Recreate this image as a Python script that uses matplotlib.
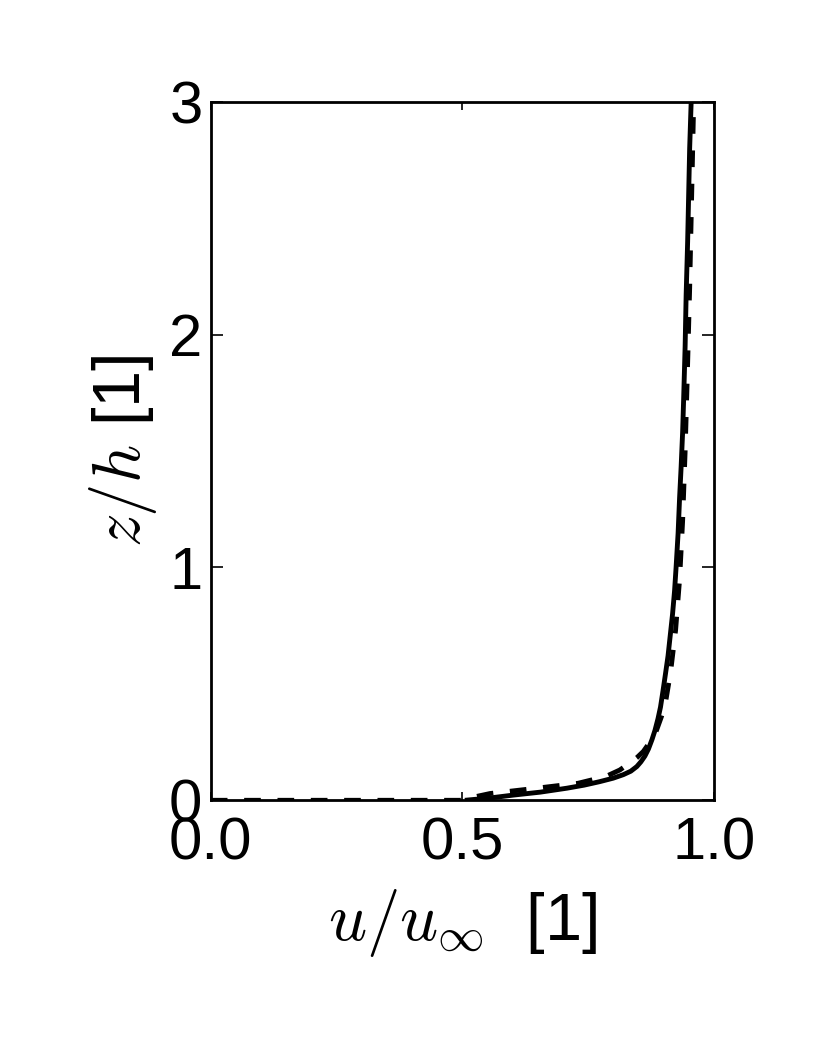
import matplotlib
matplotlib.use("Agg")
import matplotlib.pyplot as plt

# Solid profile (u/u_inf, z/h)
solid_u = [0.505, 0.555, 0.600, 0.655, 0.708, 0.742, 0.773, 0.800, 0.820, 0.835,
           0.847, 0.855, 0.863, 0.870, 0.877, 0.883, 0.889, 0.894, 0.899, 0.904,
           0.909, 0.913, 0.918, 0.922, 0.925, 0.929, 0.932, 0.935, 0.938, 0.940,
           0.943, 0.945, 0.948, 0.950, 0.952, 0.955]
solid_z = [0.0, 0.010, 0.022, 0.035, 0.052, 0.065, 0.080, 0.095, 0.110, 0.125,
           0.145, 0.165, 0.190, 0.220, 0.260, 0.300, 0.350, 0.400, 0.470, 0.544,
           0.620, 0.700, 0.800, 0.900, 1.000, 1.146, 1.300, 1.430, 1.580, 1.720,
           1.950, 2.170, 2.400, 2.600, 2.800, 3.000]

# Dashed profile
dashed_u = [0.0, 0.500, 0.525, 0.555, 0.640, 0.730, 0.762, 0.790, 0.813, 0.833,
            0.848, 0.860, 0.873, 0.886, 0.896, 0.904, 0.914, 0.924, 0.932, 0.938,
            0.943, 0.947, 0.952, 0.956, 0.960]
dashed_z = [0.0, 0.0, 0.015, 0.029, 0.050, 0.073, 0.090, 0.107, 0.130, 0.160,
            0.185, 0.210, 0.250, 0.300, 0.360, 0.420, 0.550, 0.730, 0.950, 1.200,
            1.500, 1.800, 2.200, 2.600, 3.000]

xticks = [0.0, 0.5, 1.0]
xticklabels = ["0.0", "0.5", "1.0"]
yticks = [0, 1, 2, 3]
yticklabels = ["0", "1", "2", "3"]

plt.rcParams['font.family'] = ['Liberation Sans', 'DejaVu Sans']
plt.rcParams['mathtext.fontset'] = 'cm'
plt.rcParams['lines.scale_dashes'] = False
FS = 43
LFS = 48

fig = plt.figure(figsize=(8.3, 10.38), dpi=100, facecolor='white')
ax = fig.add_axes([0.254, 0.229, 0.606, 0.673])

ax.plot(solid_u, solid_z, color='black', lw=3.5, solid_capstyle='butt',
        solid_joinstyle='round')
ax.plot(dashed_u, dashed_z, color='black', lw=3.5, dashes=(12, 12),
        dash_capstyle='butt')

ax.set_xlim(0, 1)
ax.set_ylim(0, 3)
ax.set_xticks(xticks)
ax.set_xticklabels(xticklabels)
ax.set_yticks(yticks)
ax.set_yticklabels(yticklabels)

for s in ax.spines.values():
    s.set_linewidth(2)

ax.tick_params(axis='x', direction='in', top=True, bottom=True, length=6, width=1.2,
               labelsize=FS, pad=12)
ax.tick_params(axis='y', direction='in', left=True, right=True, length=8.5, width=1.2,
               labelsize=FS, pad=6)

ax.set_xlabel(r'$u/u_\infty$  [1]', fontsize=LFS, labelpad=11)
ax.set_ylabel(r'$z/h$ [1]', fontsize=LFS, labelpad=7)

fig.savefig('out.png', dpi=100, facecolor='white')
